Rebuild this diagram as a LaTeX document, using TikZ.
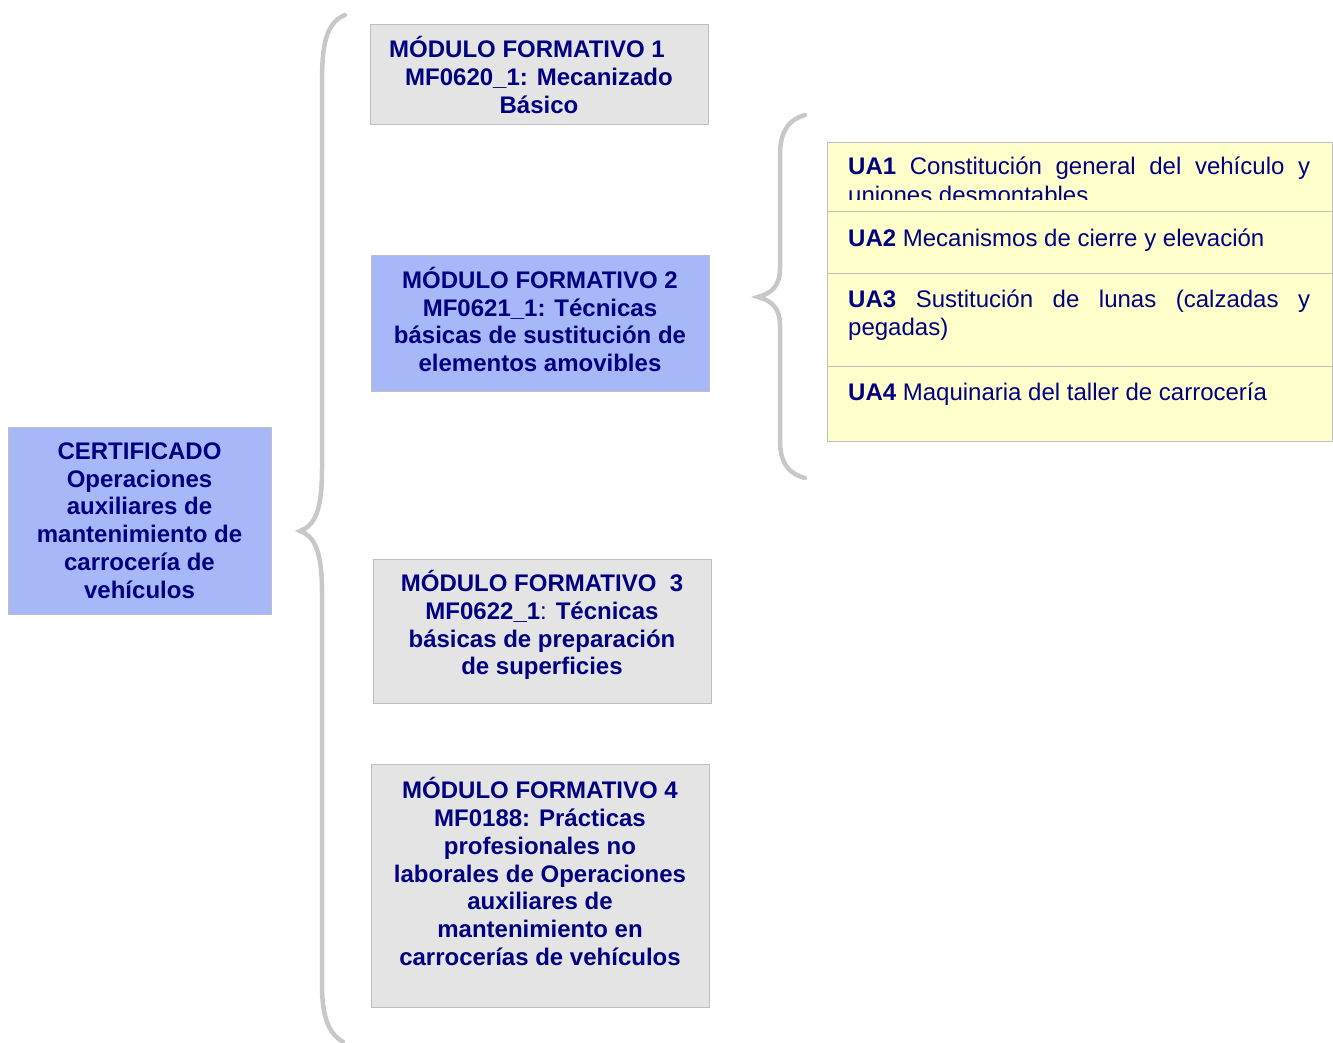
\documentclass[tikz,border=0pt]{standalone}
\usepackage{fontspec}
\setmainfont{Liberation Sans}
\definecolor{navytext}{RGB}{0,0,128}
\definecolor{bluefill}{RGB}{166,184,248}
\definecolor{grayfill}{RGB}{228,228,228}
\definecolor{yellowfill}{RGB}{255,255,204}
\definecolor{boxline}{RGB}{190,190,190}
\definecolor{braceline}{RGB}{200,200,200}
\tikzset{
  modbox/.style={draw=boxline, line width=1pt, fill=grayfill, inner sep=0pt, text=navytext, align=center,
    font=\fontsize{24}{27.7}\selectfont\bfseries},
  certbox/.style={modbox, fill=bluefill},
  uabox/.style={draw=boxline, line width=1pt, fill=yellowfill, minimum width=505pt, inner sep=0pt, anchor=north west},
  uatext/.style={inner sep=0pt, text=navytext, text width=462pt, align=justify, anchor=base west,
    font=\fontsize{24}{28.5}\selectfont},
  bracket/.style={draw=braceline, line width=4.5pt, line cap=round}
}
\begin{document}
\begin{tikzpicture}[x=1pt, y=-1pt]
\useasboundingbox (0,0) rectangle (1333,1043);

% left side
\node[certbox, minimum width=263pt, minimum height=187pt] (cert) at (139.5,520.5)
  {CERTIFICADO\\Operaciones\\auxiliares de\\mantenimiento de\\carrocería de\\vehículos}; % cert

\draw[bracket] (345,15) .. controls (328,22) and (322,40) .. (322,80) -- (322,470)
  .. controls (322,512) and (314,526) .. (300,531) .. controls (314,536) and (322,550) .. (322,592)
  -- (322,985) .. controls (322,1020) and (330,1034) .. (343,1042) ; % big brace

% modulos
\node[modbox, minimum width=338pt, minimum height=100pt] (mf1) at (539,75)
  {\hspace*{-24pt}MÓDULO FORMATIVO 1\\MF0620\_1: Mecanizado\\Básico}; % mf1
\node[certbox, minimum width=338pt, minimum height=136pt] (mf2) at (540,323)
  {}; % mf2
\node[modbox, draw=none, fill=none] (mf2t) at ([yshift=3.5pt]mf2.center)
  {MÓDULO FORMATIVO 2\\MF0621\_1: Técnicas\\básicas de sustitución de\\elementos amovibles}; % mf2 text
\node[modbox, minimum width=338pt, minimum height=144pt] (mf3) at (542,631)
  {}; % mf3
\node[modbox, draw=none, fill=none] (mf3t) at ([yshift=6pt]mf3.center)
  {MÓDULO FORMATIVO\ \ 3\\MF0622\_1{\mdseries:} Técnicas\\básicas de preparación\\de superficies}; % mf3 text
\node[modbox, minimum width=338pt, minimum height=243pt] (mf4) at (540,885.5)
  {}; % mf4
\node[modbox, draw=none, fill=none] (mf4t) at ([yshift=14pt]mf4.center)
  {MÓDULO FORMATIVO 4\\MF0188: Prácticas\\profesionales no\\laborales de Operaciones\\auxiliares de\\mantenimiento en\\carrocerías de vehículos}; % mf4 text

% unidades
\draw[bracket] (805,115) .. controls (790,119) and (780,130) .. (780,155) -- (780,268)
  .. controls (780,286) and (772,293) .. (758,297) .. controls (772,301) and (780,308) .. (780,326)
  -- (780,440) .. controls (780,465) and (790,474) .. (805,478) ; % small brace

\node[uabox, minimum height=69pt] (ua1) at (827,142) {}; % ua1
\node[uabox, minimum height=62pt] (ua2) at (827,211) {}; % ua2
\node[uabox, minimum height=93pt] (ua3) at (827,273) {}; % ua3
\node[uabox, minimum height=75pt] (ua4) at (827,366) {}; % ua4

\begin{scope}
\clip (827,142) rectangle (1332,200);
\node[uatext] (ua1t) at (848,175) {\textbf{UA1} Constitución general del vehículo y\linebreak uniones desmontables}; % ua1 text
\end{scope}
\node[uatext] (ua2t) at (848,246) {\textbf{UA2} Mecanismos de cierre y elevación}; % ua2 text
\node[uatext] (ua3t) at (848,307) {\textbf{UA3} Sustitución de lunas (calzadas y\linebreak pegadas)}; % ua3 text
\node[uatext] (ua4t) at (848,400) {\textbf{UA4} Maquinaria del taller de carrocería}; % ua4 text

\end{tikzpicture}
\end{document}
